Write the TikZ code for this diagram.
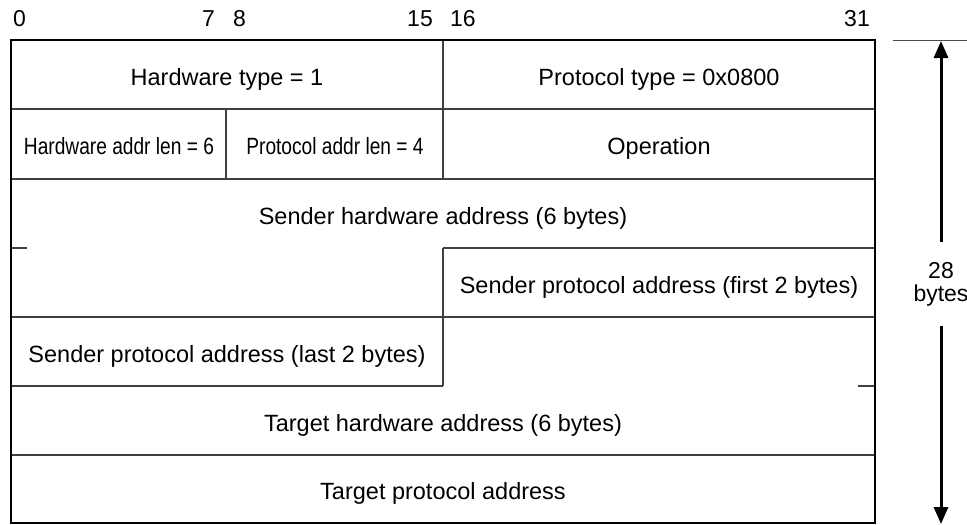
\documentclass[tikz,border=0pt]{standalone}
\usepackage{fontspec}
\setmainfont{Liberation Sans}
\newfontfamily\narrowfont{Liberation Sans}[FakeStretch=0.815]
\usetikzlibrary{arrows.meta}
\begin{document}
\begin{tikzpicture}[x=1pt,y=-1pt,
  txt/.style={inner sep=0pt,anchor=base,font=\fontsize{23.5}{23.5}\selectfont},
  ntxt/.style={inner sep=0pt,anchor=base,font=\fontsize{23.5}{23.5}\selectfont\narrowfont},
  bitnum/.style={inner sep=0pt,font=\fontsize{23}{23}\selectfont},
  inner/.style={line width=1.2pt,draw=black!75},
  outer/.style={line width=2pt,draw=black},
  arr/.style={line width=3pt,-{Triangle[width=14pt,length=17pt]}},
  refline/.style={line width=1pt,draw=black!70}]
\useasboundingbox (0,0) rectangle (967,525);
% inner lines
\draw[inner] (11,109) -- (875,109);
\draw[inner] (11,179) -- (875,179);
\draw[inner] (11,248) -- (27,248);
\draw[inner] (443,248) -- (875,248);
\draw[inner] (11,317) -- (875,317);
\draw[inner] (11,386) -- (443,386);
\draw[inner] (858,386) -- (875,386);
\draw[inner] (11,455) -- (875,455);
\draw[inner] (443,40) -- (443,179);
\draw[inner] (226,109) -- (226,179);
\draw[inner] (443,248) -- (443,386);
\draw[outer] (11,40) rectangle (875,523);
% bit numbers
\node[bitnum,anchor=base west] (b0) at (13,26) {0};
\node[bitnum,anchor=base east] (b7) at (215,26) {7};
\node[bitnum,anchor=base west] (b8) at (233,26) {8};
\node[bitnum,anchor=base east] (b15) at (433,26) {15};
\node[bitnum,anchor=base west] (b16) at (450,26) {16};
\node[bitnum,anchor=base east] (b31) at (870,26) {31};
% fields (baseline = row centre + 10.5)
\node[txt] (hwtype) at (227,85) {Hardware type = 1};
\node[txt] (prtype) at (659,85) {Protocol type = 0x0800};
\node[ntxt] (hwlen) at (119,154.5) {Hardware addr len = 6};
\node[ntxt] (prlen) at (335,154.5) {Protocol addr len = 4};
\node[txt] (op) at (659,154.5) {Operation};
\node[txt] (sha) at (443,224) {Sender hardware address (6 bytes)};
\node[txt] (spa1) at (659,293) {Sender protocol address (first 2 bytes)};
\node[txt] (spa2) at (227,362) {Sender protocol address (last 2 bytes)};
\node[txt] (tha) at (443,431) {Target hardware address (6 bytes)};
\node[txt] (tpa) at (443,499.5) {Target protocol address};
% size indicator
\coordinate (rl0) at (893,40);
\coordinate (rl1) at (967,40);
\draw[refline] (rl0) -- (rl1);
\coordinate (top) at (941,41);
\coordinate (bot) at (941,524);
\node[inner sep=0pt,font=\fontsize{23}{23}\selectfont,align=center,inner xsep=0pt,inner ysep=20pt] (len) at (941,284) {28\\bytes};
\draw[arr] (len.north) -- (top);
\draw[arr] (len.south) -- (bot);
\end{tikzpicture}
\end{document}
